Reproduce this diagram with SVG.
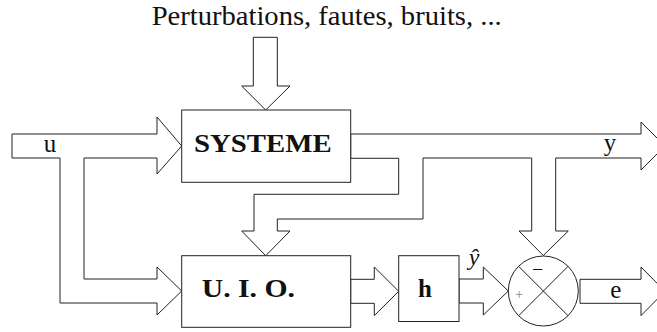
<svg xmlns="http://www.w3.org/2000/svg" width="657" height="332" viewBox="0 0 657 332">
<style>
.ar{fill:#fff;stroke:#222;stroke-width:1;stroke-linejoin:miter}
.bx{fill:#fff;stroke:#222;stroke-width:1}
.t{font-family:"Liberation Serif","DejaVu Serif",serif;fill:#111}
.b{font-weight:bold}
</style>
<rect width="657" height="332" fill="#fff"/>
<g id="connectors">
<polygon class="ar" points="253.3,37.3 277.3,37.3 277.3,86 290,86 265.7,110 241.7,86 253.3,86"/>
<polygon class="ar" points="12,134 157,134 157,117 181.7,146 157,174 157,158 84,158 84,279 157,279 157,267 181.7,291 157,315 157,303 60,303 60,158 12,158"/>
<polygon class="ar" points="350.7,134 641,134 641,122 665,146 641,170 641,158 555.7,158 555.7,231 568.3,231 543.3,255.5 519,231 531.7,231 531.7,158 423,158 423,219 277.3,219 277.3,231 290,231 265.7,255.7 241.7,231 254,231 254,194.3 398.7,194.3 398.7,158.3 350.7,158.3"/>
<polygon class="ar" points="350.7,279.3 374.3,279.3 374.3,267 398.7,291.3 374.3,315.6 374.3,303.3 350.7,303.3"/>
<polygon class="ar" points="459,279 483.3,279 483.3,267 508.3,291 483.3,315 483.3,303 459,303"/>
<polygon class="ar" points="580,279.3 641,279.3 641,267 665,291.3 641,315.6 641,303.3 580,303.3"/>
</g>
<text class="t" x="151.7" y="25" font-size="27" textLength="350" lengthAdjust="spacingAndGlyphs">Perturbations, fautes, bruits, ...</text>
<g id="systeme">
<rect class="bx" x="181.7" y="110" width="169" height="72.3"/>
<text class="t b" x="194" y="151.7" font-size="25" textLength="137.7" lengthAdjust="spacingAndGlyphs">SYSTEME</text>
</g>
<g id="uio">
<rect class="bx" x="181.7" y="255.7" width="169" height="71.6"/>
<text class="t b" x="201.7" y="297.3" font-size="25" textLength="93.3" lengthAdjust="spacingAndGlyphs">U. I. O.</text>
</g>
<g id="h">
<rect class="bx" x="398.7" y="255.7" width="60.3" height="65.8"/>
<text class="t b" x="425" y="297" font-size="25" text-anchor="middle">h</text>
</g>
<g id="comparator">
<circle class="bx" cx="543.3" cy="291" r="35"/>
<line x1="518.6" y1="266.3" x2="568.1" y2="315.8" stroke="#222" stroke-width="1"/>
<line x1="568.1" y1="266.3" x2="518.6" y2="315.8" stroke="#222" stroke-width="1"/>
<text class="t" x="537.7" y="276" font-size="20" text-anchor="middle">−</text>
<text class="t" x="519.3" y="298.5" font-size="14" text-anchor="middle" style="fill:#888">+</text>
</g>
<g id="labels">
<text class="t" x="50" y="152" font-size="25" text-anchor="middle">u</text>
<text class="t" x="610" y="151" font-size="25" text-anchor="middle">y</text>
<text class="t" x="615.7" y="298" font-size="25" text-anchor="middle">e</text>
<text class="t" x="474" y="265" font-size="24" font-style="italic" text-anchor="middle">ŷ</text>
</g>
</svg>
